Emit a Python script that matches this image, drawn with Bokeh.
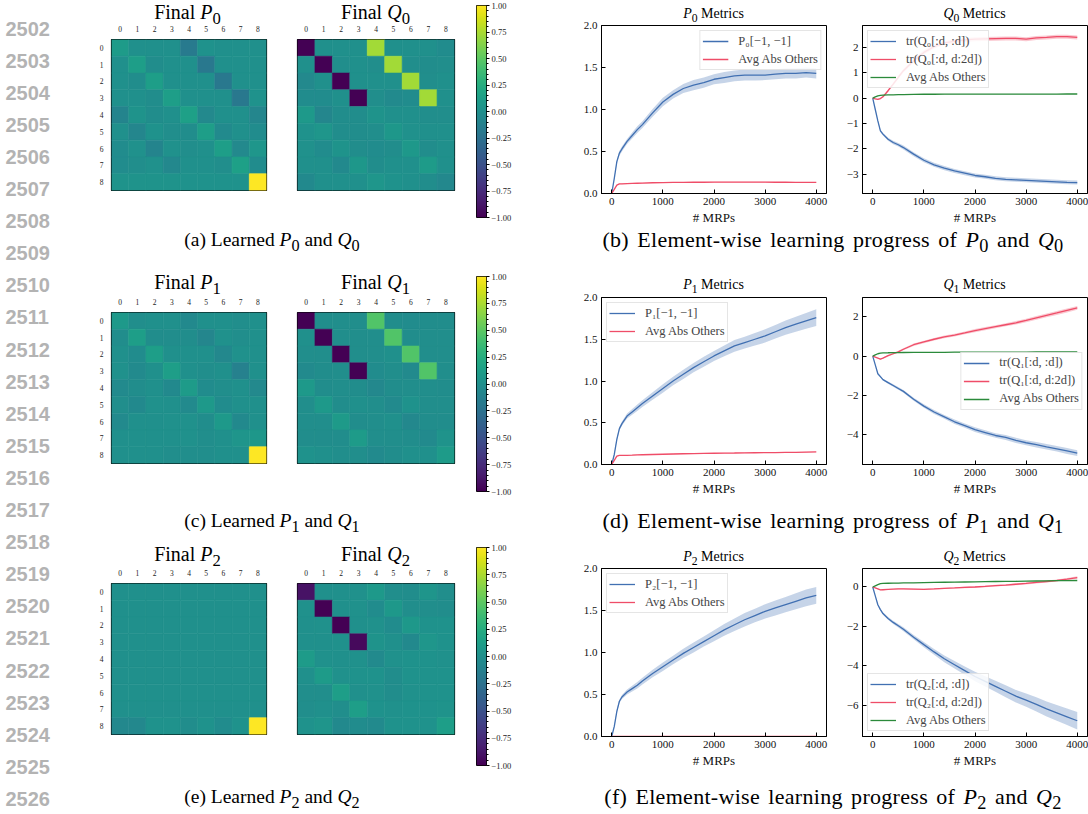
import numpy as np
from bokeh.plotting import figure
from bokeh.layouts import row, column
from bokeh.models import (Range1d, FixedTicker, Div, Legend, LegendItem,
                          LinearColorMapper, ColumnDataSource)
from bokeh.transform import linear_cmap
from bokeh.palettes import Viridis256
from bokeh.embed import file_html
from bokeh.resources import INLINE
from bokeh.core.properties import value

SERIF = "Liberation Serif"

# ---------------- data ----------------
LINE_NUMS = ["2502", "2503", "2504", "2505", "2506", "2507", "2508", "2509", "2510",
             "2511", "2512", "2513", "2514", "2515", "2516", "2517", "2518", "2519",
             "2520", "2521", "2522", "2523", "2524", "2525", "2526"]

HEAT_TICKS = [0, 1, 2, 3, 4, 5, 6, 7, 8]
CB_LOW, CB_HIGH = -1.0, 1.0
CB_TICKS = [-1.0, -0.75, -0.5, -0.25, 0.0, 0.25, 0.5, 0.75, 1.0]
CB_LABELS = ["\u22121.00", "\u22120.75", "\u22120.50", "\u22120.25", "0.00", "0.25", "0.50", "0.75", "1.00"]

P0 = [
    [0.10, 0.00, 0.00, 0.00, -0.18, 0.02, 0.00, 0.00, 0.00],
    [0.00, 0.12, -0.02, 0.00, 0.00, -0.20, 0.00, 0.00, 0.00],
    [0.00, -0.02, 0.12, 0.00, 0.00, 0.00, -0.20, 0.00, 0.00],
    [0.00, 0.00, -0.02, 0.12, 0.00, 0.00, 0.00, -0.20, 0.02],
    [-0.10, 0.03, -0.02, 0.00, 0.14, -0.06, 0.00, 0.00, -0.08],
    [0.00, -0.08, 0.02, -0.01, -0.02, 0.12, -0.04, 0.00, -0.03],
    [-0.03, 0.01, -0.10, 0.01, -0.01, 0.00, 0.12, -0.06, 0.05],
    [-0.03, -0.01, 0.01, -0.07, 0.00, 0.00, -0.01, 0.14, -0.03],
    [0.03, 0.03, 0.03, 0.03, 0.02, 0.02, 0.02, 0.02, 1.43],
]
Q0 = [
    [-1.00, 0.00, 0.00, 0.00, 0.72, 0.00, 0.00, 0.00, -0.03],
    [0.00, -1.00, -0.01, 0.00, -0.01, 0.72, -0.01, -0.02, -0.01],
    [-0.06, 0.00, -1.00, 0.00, 0.00, 0.00, 0.72, -0.01, 0.00],
    [-0.03, -0.03, 0.00, -1.00, -0.01, -0.04, -0.03, 0.72, 0.00],
    [0.08, -0.08, -0.02, -0.02, 0.03, 0.00, 0.00, -0.01, -0.01],
    [0.02, 0.05, -0.02, -0.02, -0.01, 0.06, 0.01, 0.00, 0.00],
    [0.01, -0.03, 0.03, -0.02, -0.03, -0.02, 0.07, -0.02, 0.00],
    [0.00, 0.00, -0.05, 0.06, -0.02, 0.00, 0.00, 0.10, 0.00],
    [-0.05, 0.00, 0.00, 0.00, 0.05, 0.02, 0.00, -0.02, -0.07],
]
P1 = [
    [0.08, -0.01, 0.00, 0.00, -0.05, 0.00, 0.00, -0.01, 0.00],
    [-0.02, 0.12, -0.02, -0.02, -0.02, -0.08, 0.01, -0.01, 0.00],
    [0.00, -0.03, 0.12, 0.00, 0.00, 0.00, -0.07, 0.01, 0.00],
    [0.01, -0.04, 0.00, 0.12, 0.00, -0.01, 0.00, -0.12, 0.00],
    [-0.04, -0.02, 0.00, -0.05, 0.10, -0.03, -0.01, 0.00, -0.06],
    [-0.01, -0.05, 0.01, 0.00, -0.04, 0.08, -0.03, 0.00, 0.00],
    [-0.04, 0.00, 0.00, 0.01, 0.01, -0.02, 0.08, -0.05, 0.00],
    [0.00, 0.00, 0.00, 0.00, 0.01, -0.01, 0.00, 0.04, 0.06],
    [0.00, 0.00, 0.00, -0.01, -0.01, -0.01, 0.00, 0.00, 1.77],
]
Q1 = [
    [-1.00, -0.01, -0.01, -0.01, 0.46, -0.02, -0.03, -0.02, -0.02],
    [0.00, -1.00, -0.01, -0.01, -0.01, 0.46, -0.02, -0.01, -0.01],
    [-0.01, -0.01, -1.00, -0.01, -0.01, 0.00, 0.46, -0.01, -0.01],
    [-0.04, -0.02, -0.01, -1.00, -0.03, -0.01, -0.04, 0.46, -0.01],
    [0.08, -0.02, -0.01, -0.02, -0.07, -0.02, -0.01, -0.01, -0.02],
    [-0.01, 0.08, -0.02, 0.00, -0.01, -0.04, 0.02, -0.01, -0.01],
    [-0.01, -0.01, 0.09, -0.02, -0.01, 0.00, -0.07, -0.02, -0.02],
    [-0.02, -0.02, -0.02, 0.10, -0.01, -0.01, -0.02, -0.04, 0.03],
    [0.02, 0.00, -0.01, -0.01, -0.04, -0.02, 0.00, 0.00, 0.10],
]
P2 = [
    [0.00, 0.00, 0.00, 0.00, 0.00, 0.00, 0.00, 0.00, 0.00],
    [0.00, 0.00, 0.00, 0.00, 0.00, 0.00, 0.00, 0.00, 0.00],
    [0.00, 0.00, 0.00, 0.00, 0.00, 0.00, 0.00, 0.00, 0.00],
    [0.00, 0.00, 0.00, 0.00, 0.00, 0.00, 0.00, 0.00, 0.00],
    [0.00, 0.00, 0.00, 0.00, 0.00, 0.00, 0.00, 0.00, 0.00],
    [0.00, 0.00, 0.00, 0.00, 0.00, 0.00, 0.00, 0.00, 0.00],
    [0.00, 0.00, 0.00, 0.00, 0.00, 0.00, 0.00, 0.00, 0.00],
    [0.00, 0.00, 0.00, 0.00, 0.00, 0.00, 0.00, 0.00, 0.00],
    [-0.07, -0.07, 0.02, 0.02, -0.02, 0.02, -0.03, 0.02, 1.68],
]
Q2 = [
    [-0.90, 0.00, 0.00, 0.01, 0.08, -0.01, -0.02, 0.04, -0.01],
    [0.01, -1.00, 0.00, 0.01, -0.03, 0.07, -0.01, -0.01, -0.02],
    [0.00, 0.01, -1.00, 0.00, 0.01, -0.03, 0.07, 0.02, 0.02],
    [0.00, 0.00, 0.01, -0.95, 0.03, 0.00, -0.05, 0.05, 0.02],
    [0.10, 0.01, 0.00, 0.01, -0.04, 0.01, 0.02, 0.02, 0.01],
    [0.00, 0.10, 0.01, 0.02, 0.02, -0.02, 0.02, 0.02, 0.02],
    [-0.01, -0.01, 0.12, 0.00, 0.01, -0.02, 0.01, 0.02, 0.02],
    [-0.01, 0.00, -0.01, 0.12, 0.02, 0.01, 0.02, 0.02, 0.03],
    [0.02, 0.04, -0.05, -0.03, -0.04, 0.02, 0.02, 0.02, 0.12],
]
P_MATS = [P0, P1, P2]
Q_MATS = [Q0, Q1, Q2]

# number of MRPs
X = [0, 50, 100, 150, 200, 300, 400, 500, 600, 800, 1000, 1200, 1400, 1600, 1800,
     2000, 2200, 2400, 2600, 2800, 3000, 3200, 3400, 3600, 3800, 4000]
X_TICKS = [0, 1000, 2000, 3000, 4000]

# P metrics: P_k[-1,-1] mean / std and Avg Abs Others
P0_LAST = [0, 0.18, 0.38, 0.48, 0.53, 0.62, 0.69, 0.76, 0.82, 0.96, 1.09, 1.18, 1.25, 1.29,
           1.32, 1.36, 1.38, 1.40, 1.41, 1.41, 1.41, 1.42, 1.43, 1.43, 1.44, 1.43]
P0_LAST_SD = [0, 0.01, 0.02, 0.03, 0.03, 0.03, 0.035, 0.04, 0.04, 0.045, 0.05, 0.05, 0.055,
              0.06, 0.06, 0.06, 0.065, 0.065, 0.065, 0.065, 0.06, 0.06, 0.06, 0.06, 0.06, 0.06]
P0_OTH = [0, 0.05, 0.10, 0.115, 0.115, 0.118, 0.12, 0.122, 0.124, 0.128, 0.13, 0.132, 0.133,
          0.134, 0.134, 0.135, 0.135, 0.136, 0.136, 0.135, 0.135, 0.134, 0.134, 0.133, 0.133, 0.132]
P1_LAST = [0, 0.12, 0.30, 0.43, 0.49, 0.58, 0.63, 0.68, 0.73, 0.82, 0.91, 1.00, 1.08, 1.16,
           1.23, 1.30, 1.36, 1.42, 1.46, 1.50, 1.54, 1.59, 1.64, 1.68, 1.72, 1.76]
P1_LAST_SD = [0, 0.01, 0.02, 0.02, 0.025, 0.03, 0.035, 0.04, 0.04, 0.045, 0.05, 0.05, 0.055,
              0.055, 0.06, 0.06, 0.065, 0.07, 0.07, 0.075, 0.08, 0.08, 0.085, 0.09, 0.095, 0.10]
P1_OTH = [0, 0.05, 0.10, 0.11, 0.11, 0.11, 0.112, 0.115, 0.117, 0.12, 0.123, 0.126, 0.129,
          0.131, 0.133, 0.135, 0.137, 0.138, 0.14, 0.141, 0.142, 0.143, 0.145, 0.146, 0.148, 0.15]
P2_LAST = [0, 0.12, 0.30, 0.42, 0.47, 0.53, 0.57, 0.61, 0.66, 0.75, 0.83, 0.91, 0.99, 1.06,
           1.13, 1.20, 1.27, 1.33, 1.39, 1.44, 1.49, 1.53, 1.57, 1.61, 1.65, 1.68]
P2_LAST_SD = [0, 0.01, 0.02, 0.02, 0.025, 0.03, 0.035, 0.04, 0.04, 0.045, 0.05, 0.05, 0.055,
              0.06, 0.06, 0.065, 0.07, 0.075, 0.08, 0.08, 0.085, 0.09, 0.09, 0.095, 0.1, 0.1]
P2_OTH = [0] * 26

# Q metrics: tr(Q[:d,:d]), tr(Q[:d,d:2d]), Avg Abs Others
Q0_TR1 = [0, -0.45, -0.90, -1.29, -1.42, -1.62, -1.75, -1.84, -1.95, -2.21, -2.45, -2.63,
          -2.76, -2.87, -2.96, -3.05, -3.10, -3.16, -3.20, -3.22, -3.24, -3.26, -3.28, -3.30, -3.32, -3.33]
Q0_TR1_SD = [0, 0.02, 0.04, 0.05, 0.05, 0.06, 0.07, 0.07, 0.08, 0.08, 0.08, 0.08, 0.08, 0.08,
             0.08, 0.08, 0.08, 0.08, 0.08, 0.08, 0.08, 0.08, 0.08, 0.08, 0.08, 0.08]
Q0_TR2 = [0, -0.03, -0.05, -0.02, 0.05, 0.29, 0.55, 0.82, 1.08, 1.47, 1.80, 2.03, 2.17, 2.24,
          2.29, 2.32, 2.33, 2.34, 2.35, 2.35, 2.32, 2.37, 2.39, 2.42, 2.42, 2.39]
Q0_TR2_SD = [0, 0.01, 0.02, 0.03, 0.04, 0.05, 0.06, 0.07, 0.07, 0.08, 0.08, 0.08, 0.08, 0.08,
             0.08, 0.08, 0.08, 0.08, 0.08, 0.08, 0.08, 0.08, 0.08, 0.08, 0.08, 0.08]
Q0_OTH = [0, 0.05, 0.09, 0.11, 0.12, 0.125, 0.13, 0.135, 0.14, 0.145, 0.15, 0.15, 0.152, 0.153,
          0.155, 0.155, 0.156, 0.157, 0.157, 0.158, 0.158, 0.158, 0.159, 0.159, 0.16, 0.16]
Q1_TR1 = [0, -0.45, -0.90, -1.05, -1.20, -1.35, -1.50, -1.65, -1.80, -2.20, -2.55, -2.85, -3.10,
          -3.35, -3.55, -3.75, -3.90, -4.05, -4.15, -4.30, -4.42, -4.52, -4.63, -4.73, -4.84, -4.95]
Q1_TR1_SD = [0, 0.02, 0.04, 0.05, 0.05, 0.06, 0.06, 0.07, 0.07, 0.08, 0.09, 0.1, 0.1, 0.11, 0.11,
             0.12, 0.12, 0.12, 0.13, 0.13, 0.13, 0.14, 0.14, 0.14, 0.15, 0.15]
Q1_TR2 = [0, -0.05, -0.10, -0.15, -0.10, 0.02, 0.12, 0.22, 0.35, 0.58, 0.72, 0.86, 0.98, 1.07,
          1.18, 1.30, 1.40, 1.50, 1.60, 1.70, 1.82, 1.95, 2.08, 2.20, 2.33, 2.46]
Q1_TR2_SD = [0, 0.01, 0.02, 0.03, 0.03, 0.04, 0.04, 0.05, 0.05, 0.06, 0.06, 0.06, 0.07, 0.07,
             0.07, 0.08, 0.08, 0.08, 0.08, 0.09, 0.09, 0.09, 0.1, 0.1, 0.1, 0.1]
Q1_OTH = [0, 0.06, 0.12, 0.15, 0.16, 0.17, 0.175, 0.18, 0.185, 0.19, 0.19, 0.195, 0.195, 0.2,
          0.2, 0.2, 0.2, 0.2, 0.205, 0.205, 0.205, 0.21, 0.21, 0.21, 0.21, 0.21]
Q2_TR1 = [0, -0.45, -0.90, -1.15, -1.35, -1.60, -1.80, -1.97, -2.15, -2.55, -2.93, -3.30, -3.65,
          -3.95, -4.25, -4.55, -4.80, -5.05, -5.30, -5.55, -5.75, -5.97, -6.20, -6.40, -6.60, -6.80]
Q2_TR1_SD = [0, 0.02, 0.04, 0.05, 0.06, 0.07, 0.08, 0.09, 0.10, 0.11, 0.13, 0.15, 0.17, 0.19,
             0.21, 0.24, 0.26, 0.28, 0.30, 0.32, 0.34, 0.36, 0.38, 0.40, 0.42, 0.45]
Q2_TR2 = [0, -0.05, -0.10, -0.15, -0.14, -0.12, -0.11, -0.10, -0.10, -0.11, -0.12, -0.10, -0.07,
          -0.05, -0.02, 0.00, 0.03, 0.07, 0.10, 0.14, 0.18, 0.23, 0.28, 0.33, 0.40, 0.48]
Q2_TR2_SD = [0, 0.01, 0.01, 0.02, 0.02, 0.02, 0.02, 0.03, 0.03, 0.03, 0.03, 0.03, 0.03, 0.03,
             0.04, 0.04, 0.04, 0.04, 0.04, 0.05, 0.05, 0.05, 0.05, 0.05, 0.06, 0.06]
Q2_OTH = [0, 0.06, 0.12, 0.17, 0.18, 0.19, 0.195, 0.2, 0.205, 0.21, 0.22, 0.23, 0.24, 0.25,
          0.255, 0.26, 0.27, 0.28, 0.285, 0.29, 0.30, 0.305, 0.31, 0.32, 0.325, 0.33]
SMALL_SD = [0.0] + [0.004] * 25

P_SERIES = [(P0_LAST, P0_LAST_SD, P0_OTH), (P1_LAST, P1_LAST_SD, P1_OTH), (P2_LAST, P2_LAST_SD, P2_OTH)]
Q_SERIES = [(Q0_TR1, Q0_TR1_SD, Q0_TR2, Q0_TR2_SD, Q0_OTH), (Q1_TR1, Q1_TR1_SD, Q1_TR2, Q1_TR2_SD, Q1_OTH),
            (Q2_TR1, Q2_TR1_SD, Q2_TR2, Q2_TR2_SD, Q2_OTH)]

P_YRANGE = (0.0, 2.0)
P_YTICKS = [0.0, 0.5, 1.0, 1.5, 2.0]
P_YLABELS = ["0.0", "0.5", "1.0", "1.5", "2.0"]
Q_YRANGES = [(-3.76, 2.86), (-5.53, 2.99), (-7.6, 0.94)]
Q_YTICKS = [[-3, -2, -1, 0, 1, 2], [-4, -2, 0, 2], [-6, -4, -2, 0]]
Q_YLABELS = [["\u22123", "\u22122", "\u22121", "0", "1", "2"], ["\u22124", "\u22122", "0", "2"],
             ["\u22126", "\u22124", "\u22122", "0"]]

SUBS = ["\u2080", "\u2081", "\u2082"]
LETTERS = [("a", "b"), ("c", "d"), ("e", "f")]

BLUE = "#4170b2"
RED = "#ef4d68"
GREEN = "#2b8a3b"

# ---------------- layout geometry (page px, layout starts at 0,0) ----------------
ROWS = [
    dict(top=0, bot=228, heat_c=12, heat_ft=33, cb_t=5, cb_b=217, line_c=14, line_ft=25, line_fb=193,
         cap_b=252, cap_c=240, q_loc="top_left", p_loc="top_right"),
    dict(top=252, bot=509, heat_c=282, heat_ft=306, cb_t=276, cb_b=491, line_c=285, line_ft=297, line_fb=464,
         cap_b=533, cap_c=521, q_loc="center_right", p_loc="top_left"),
    dict(top=533, bot=786, heat_c=554, heat_ft=577, cb_t=547, cb_b=765, line_c=557, line_ft=568, line_fb=736,
         cap_b=812, cap_c=797, q_loc="bottom_left", p_loc="top_left"),
]
TOTAL_H = 812
NUM_W = 96
HEAT_F = 157
HP_W, HP_L = 184, 13
HQ_W, HQ_L = 188, 17
CB_W, CB_L, CB_FW = 92, 8, 10
LP_W, LP_L, LP_FW = 280, 41, 225
LQ_W, LQ_L, LQ_FW = 248, 22, 225
LINE_BT = 8
MAIN_W = HP_W + HQ_W + CB_W + LP_W + LQ_W
CAP_A_W = 352
CAP_A_C, CAP_B_C = 272, 833


def tdiv(html, w, h, line_h, size, dx=0, spacing=0, wspacing=0):
    style = (f"position:relative;left:{dx}px;width:{w}px;text-align:center;"
             f"font-family:'{SERIF}';font-size:{size}px;line-height:{line_h}px;"
             f"letter-spacing:{spacing}px;word-spacing:{wspacing}px;white-space:nowrap;color:#000;")
    return Div(text=f'<div style="{style}">{html}</div>', width=w, height=h, margin=0)


def heat_fig(mat, w, h, bl, bt, show_y):
    p = figure(width=w, height=h, x_range=Range1d(-0.5, 8.5), y_range=Range1d(8.5, -0.5),
               output_backend="svg", toolbar_location=None, x_axis_location="above",
               min_border_left=bl, min_border_right=w - bl - HEAT_F,
               min_border_top=bt, min_border_bottom=h - bt - HEAT_F)
    p.border_fill_alpha = 0
    xs, ys, vs = [], [], []
    for i in range(9):
        for j in range(9):
            xs.append(HEAT_TICKS[j]); ys.append(HEAT_TICKS[i]); vs.append(mat[i][j])
    src = ColumnDataSource(dict(x=xs, y=ys, v=vs))
    cm = linear_cmap("v", Viridis256, CB_LOW, CB_HIGH)
    p.rect("x", "y", 1, 1, source=src, fill_color=cm, line_color=cm, line_width=0.6)
    p.grid.visible = False
    p.outline_line_color = "black"
    p.outline_line_width = 1.2
    for ax in (p.xaxis[0], p.yaxis[0]):
        ax.ticker = FixedTicker(ticks=HEAT_TICKS)
        ax.major_tick_line_color = None
        ax.minor_tick_line_color = None
        ax.axis_line_color = None
        ax.major_label_text_font = SERIF
        ax.major_label_text_font_size = "7.5px"
        ax.major_label_text_color = "#222222"
        ax.major_label_standoff = 2
    p.yaxis.visible = show_y
    return p


def cbar_fig(h, bt, fh):
    p = figure(width=CB_W, height=h, x_range=Range1d(0, 1), y_range=Range1d(CB_LOW, CB_HIGH),
               output_backend="svg", toolbar_location=None, y_axis_location="right",
               min_border_left=CB_L, min_border_right=CB_W - CB_L - CB_FW,
               min_border_top=bt, min_border_bottom=h - bt - fh)
    p.border_fill_alpha = 0
    ramp = np.linspace(CB_LOW, CB_HIGH, 256).reshape(256, 1)
    p.image(image=[ramp], x=0, y=CB_LOW, dw=1, dh=CB_HIGH - CB_LOW,
            color_mapper=LinearColorMapper(palette=Viridis256, low=CB_LOW, high=CB_HIGH))
    p.xaxis.visible = False
    p.grid.visible = False
    p.outline_line_color = "black"
    p.outline_line_width = 1
    ax = p.yaxis[0]
    minors = [round(CB_LOW + 0.05 * k, 2) for k in range(41)]
    ax.ticker = FixedTicker(ticks=CB_TICKS, minor_ticks=minors)
    ax.major_label_overrides = {t: l for t, l in zip(CB_TICKS, CB_LABELS)}
    ax.major_tick_out = 3
    ax.major_tick_in = 0
    ax.minor_tick_out = 2
    ax.minor_tick_in = 0
    ax.axis_line_color = None
    ax.major_label_text_font = SERIF
    ax.major_label_text_font_size = "8.5px"
    ax.major_label_text_color = "#222222"
    ax.major_label_standoff = 2
    return p


def line_fig(w, h, bl, bt, fw, fh, yr, yticks, ylabels, series, loc):
    p = figure(width=w, height=h, x_range=Range1d(-200, 4200), y_range=Range1d(*yr),
               output_backend="svg", toolbar_location=None,
               min_border_left=bl, min_border_right=w - bl - fw,
               min_border_top=bt, min_border_bottom=h - bt - fh)
    p.border_fill_alpha = 0
    p.grid.visible = False
    p.outline_line_color = "black"
    p.outline_line_width = 1
    items = []
    for mean, sd, color, label in series:
        lo = [m - s for m, s in zip(mean, sd)]
        hi = [m + s for m, s in zip(mean, sd)]
        p.varea(x=X, y1=lo, y2=hi, fill_color=color, fill_alpha=0.3)
        r = p.line(X, mean, line_color=color, line_width=1.3)
        items.append(LegendItem(label=label, renderers=[r]))
    for ax in (p.xaxis[0], p.yaxis[0]):
        ax.axis_line_color = "black"
        ax.major_tick_in = 4
        ax.major_tick_out = 0
        ax.minor_tick_line_color = None
        ax.major_label_text_font = SERIF
        ax.major_label_text_font_size = "11px"
        ax.major_label_text_color = "#111111"
        ax.major_label_standoff = 4
    p.xaxis.ticker = FixedTicker(ticks=X_TICKS)
    p.xaxis.axis_label = "# MRPs"
    p.xaxis.axis_label_text_font = SERIF
    p.xaxis.axis_label_text_font_style = "normal"
    p.xaxis.axis_label_text_font_size = "13px"
    p.xaxis.axis_label_text_color = "#111111"
    p.xaxis.axis_label_standoff = 2
    p.yaxis.ticker = FixedTicker(ticks=yticks)
    p.yaxis.major_label_overrides = {t: l for t, l in zip(yticks, ylabels)}
    leg = Legend(items=items, location=loc, margin=5, padding=2, spacing=2,
                 label_text_font=SERIF, label_text_font_size="12.5px",
                 label_height=16, glyph_height=16, glyph_width=26, label_standoff=10,
                 border_line_color="#cccccc", border_line_width=1,
                 background_fill_color="white", background_fill_alpha=0.85)
    p.add_layout(leg)
    return p


# ---------------- line numbers ----------------
nf = figure(width=NUM_W, height=TOTAL_H, x_range=Range1d(0, NUM_W), y_range=Range1d(TOTAL_H, 0),
            output_backend="svg", toolbar_location=None, min_border=0)
nf.axis.visible = False
nf.grid.visible = False
nf.outline_line_color = None
num_y = [28 + 32.1 * i for i in range(len(LINE_NUMS))]
nf.text(x=[5] * len(LINE_NUMS), y=num_y, text=LINE_NUMS, text_font=value("Liberation Sans"),
        text_font_size="20px", text_font_style="bold", text_color="#b3b3b3", text_baseline="middle")

# ---------------- blocks ----------------
items = []
for k, g in enumerate(ROWS):
    top, bot = g["top"], g["bot"]
    H = bot - top
    sub = f"<sub>{k}</sub>"
    # heatmaps
    hft = g["heat_ft"] - 11
    th = hft - top
    L = 2 * (g["heat_c"] - top)
    tP = tdiv(f"Final <i>P</i>{sub}", HP_W, th, L, 20, dx=HP_L + HEAT_F / 2 - HP_W / 2)
    tQ = tdiv(f"Final <i>Q</i>{sub}", HQ_W, th, L, 20, dx=HQ_L + HEAT_F / 2 - HQ_W / 2)
    hp = heat_fig(P_MATS[k], HP_W, bot - hft, HP_L, 11, True)
    hq = heat_fig(Q_MATS[k], HQ_W, bot - hft, HQ_L, 11, False)
    heat = column(row(tP, tQ), row(hp, hq))
    cb = cbar_fig(H, g["cb_t"] - top, g["cb_b"] - g["cb_t"])
    # line plots
    lft = g["line_ft"] - LINE_BT
    lth = lft - top
    LL = 2 * (g["line_c"] - top)
    fh = g["line_fb"] - g["line_ft"]
    pl, psd, poth = P_SERIES[k]
    lp = line_fig(LP_W, bot - lft, LP_L, LINE_BT, LP_FW, fh, P_YRANGE, P_YTICKS, P_YLABELS,
                  [(pl, psd, BLUE, f"P{SUBS[k]}[\u22121, \u22121]"),
                   (poth, SMALL_SD, RED, "Avg Abs Others")], g["p_loc"])
    t1, t1sd, t2, t2sd, qoth = Q_SERIES[k]
    lq = line_fig(LQ_W, bot - lft, LQ_L, LINE_BT, LQ_FW, fh, Q_YRANGES[k], Q_YTICKS[k], Q_YLABELS[k],
                  [(t1, t1sd, BLUE, f"tr(Q{SUBS[k]}[:d, :d])"),
                   (t2, t2sd, RED, f"tr(Q{SUBS[k]}[:d, d:2d])"),
                   (qoth, SMALL_SD, GREEN, "Avg Abs Others")], g["q_loc"])
    tlp = tdiv(f"<i>P</i>{sub} Metrics", LP_W, lth, LL, 14, dx=LP_L + LP_FW / 2 - LP_W / 2)
    tlq = tdiv(f"<i>Q</i>{sub} Metrics", LQ_W, lth, LL, 14, dx=LQ_L + LQ_FW / 2 - LQ_W / 2)
    block = row(heat, cb, column(tlp, lp), column(tlq, lq))
    items.append(block)
    # captions
    ch = g["cap_b"] - bot
    CL = 2 * (g["cap_c"] - bot)
    la, lb = LETTERS[k]
    wb = MAIN_W - CAP_A_W
    ca = tdiv(f"({la}) Learned <i>P</i>{sub} and <i>Q</i>{sub}", CAP_A_W, ch, CL, 19.5,
              dx=CAP_A_C - (NUM_W + CAP_A_W / 2))
    cbv = tdiv(f"({lb}) Element-wise learning progress of <i>P</i>{sub} and <i>Q</i>{sub}",
               wb, ch, CL, 22, dx=CAP_B_C - (NUM_W + CAP_A_W + wb / 2), spacing=0.3, wspacing=2.5)
    items.append(row(ca, cbv))

main = column(*items)
layout = row(nf, main)

open("out.html", "w").write(file_html(layout, INLINE, "figure"))
